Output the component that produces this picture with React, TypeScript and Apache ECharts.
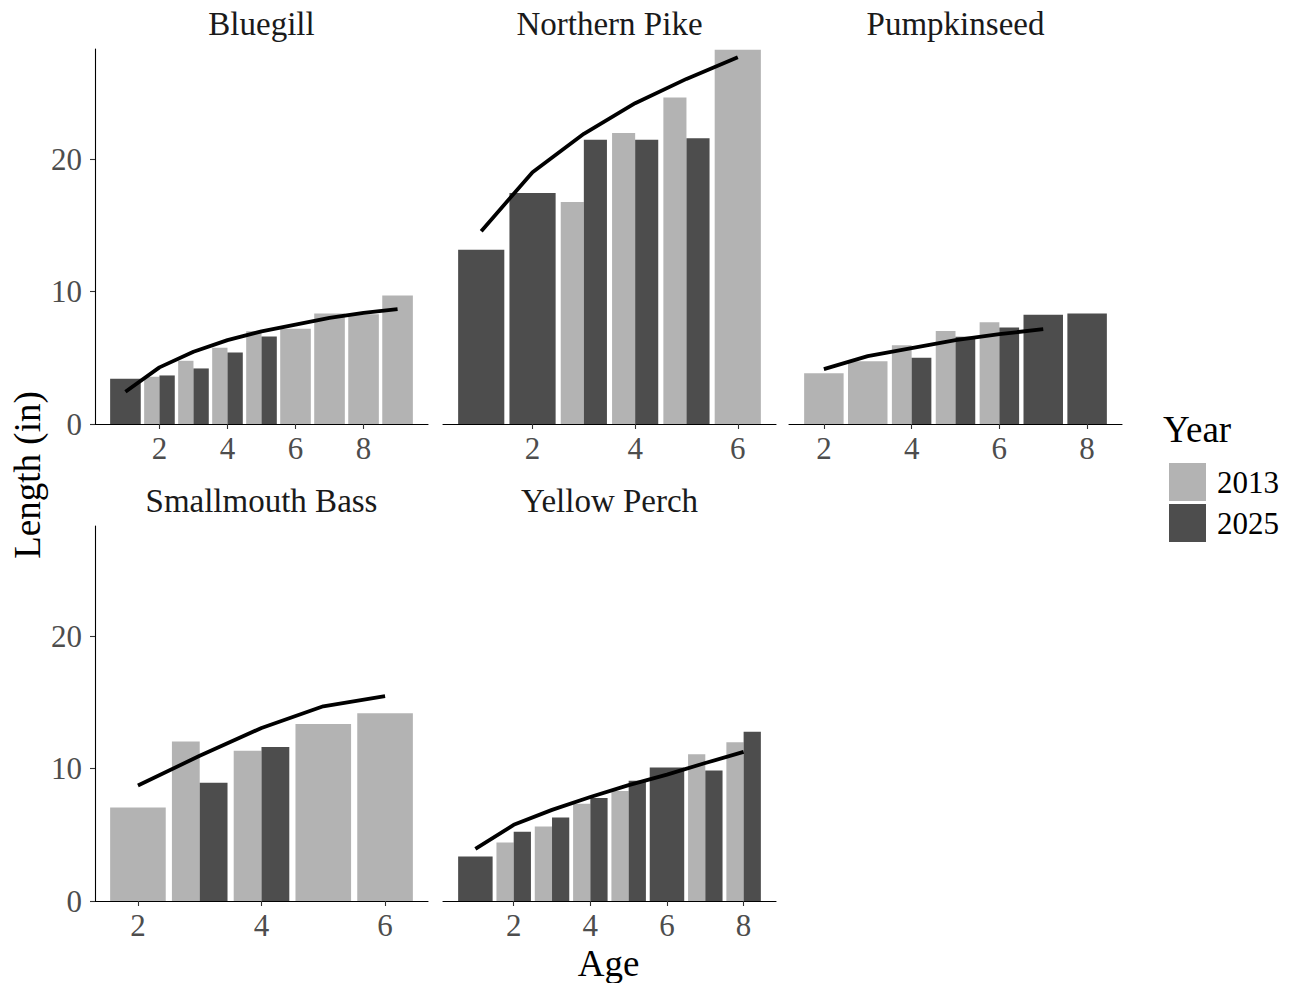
import React, { useEffect, useRef } from "react";
import * as echarts from "echarts";

// ---- Data (Length in inches by Age) ----
const speciesNames = ["Bluegill", "Northern Pike", "Pumpkinseed", "Smallmouth Bass", "Yellow Perch"];
const years = ["2013", "2025"];
const yTicks = [0, 10, 20];

const bluegill2013 = [[2, 3.57], [3, 4.78], [4, 5.76], [5, 7.02], [6, 7.2], [7, 8.35], [8, 8.3], [9, 9.71]];
const bluegill2025 = [[1, 3.42], [2, 3.67], [3, 4.2], [4, 5.41], [5, 6.62]];
const bluegillFit = [[1, 2.44], [2, 4.28], [3, 5.46], [4, 6.34], [5, 7.0], [6, 7.52], [7, 8.02], [8, 8.4], [9, 8.68]];

const pike2013 = [[3, 16.78], [4, 22.0], [5, 24.68], [6, 28.3]];
const pike2025 = [[1, 13.18], [2, 17.46], [3, 21.49], [4, 21.49], [5, 21.6]];
const pikeFit = [[1, 14.57], [2, 19.04], [3, 21.94], [4, 24.25], [5, 26.09], [6, 27.72]];

const pumpkinseed2013 = [[2, 3.83], [3, 4.75], [4, 5.96], [5, 7.04], [6, 7.7]];
const pumpkinseed2025 = [[4, 5.0], [5, 6.59], [6, 7.3], [7, 8.25], [8, 8.35]];
const pumpkinseedFit = [[2, 4.15], [3, 5.13], [4, 5.74], [5, 6.34], [6, 6.79], [7, 7.17]];

const smallmouth2013 = [[2, 7.07], [3, 12.05], [4, 11.36], [5, 13.38], [6, 14.19]];
const smallmouth2025 = [[3, 8.94], [4, 11.64]];
const smallmouthFit = [[2, 8.73], [3, 10.98], [4, 13.08], [5, 14.72], [6, 15.48]];

const perch2013 = [[2, 4.42], [3, 5.63], [4, 7.36], [5, 8.31], [7, 11.09], [8, 12.0]];
const perch2025 = [[1, 3.36], [2, 5.23], [3, 6.31], [4, 7.78], [5, 9.09], [6, 10.1], [7, 9.87], [8, 12.8]];
const perchFit = [[1, 3.94], [2, 5.76], [3, 6.89], [4, 7.86], [5, 8.76], [6, 9.55], [7, 10.43], [8, 11.27]];

const panelData = [
  [bluegill2013, bluegill2025, bluegillFit],
  [pike2013, pike2025, pikeFit],
  [pumpkinseed2013, pumpkinseed2025, pumpkinseedFit],
  [smallmouth2013, smallmouth2025, smallmouthFit],
  [perch2013, perch2025, perchFit],
];

// ---- Layout / style ----
const FONT = "Liberation Serif";
const COLORS = ["#b3b3b3", "#4d4d4d"];
const COL_LEFT = [95, 443, 789];
const ROW_TOP = [49, 526];
const PANEL_W = 333;
const PANEL_H = 375;
const Y_MAX = 28.35;
const BAR_W = 0.9;

function buildOption() {
  const grids: any[] = [];
  const xAxes: any[] = [];
  const yAxes: any[] = [];
  const series: any[] = [];
  const graphics: any[] = [];

  panelData.forEach((pd, i) => {
    const [d13, d25, fit] = pd;
    const col = i % 3;
    const row = Math.floor(i / 3);
    const left = COL_LEFT[col];
    const top = ROW_TOP[row];
    grids.push({ left, top, width: PANEL_W, height: PANEL_H, containLabel: false });

    const ages = [...d13, ...d25].map((d) => d[0]);
    const lo = Math.min(...ages) - BAR_W / 2;
    const hi = Math.max(...ages) + BAR_W / 2;
    const pad = (hi - lo) * 0.05;
    const xmin = lo - pad;
    const xmax = hi + pad;
    const ticks: number[] = [];
    for (let t = Math.ceil(xmin / 2) * 2; t <= xmax; t += 2) ticks.push(t);

    xAxes.push({
      type: "value",
      gridIndex: i,
      min: xmin,
      max: xmax,
      axisLine: { show: true, onZero: false, lineStyle: { color: "#000", width: 1.1 } },
      axisTick: { show: true, length: 5, customValues: ticks, lineStyle: { color: "#333", width: 1.1 } },
      axisLabel: {
        show: true,
        customValues: ticks,
        margin: 9,
        color: "#4d4d4d",
        fontFamily: FONT,
        fontSize: 31,
      },
      splitLine: { show: false },
    });

    const showY = col === 0;
    yAxes.push({
      type: "value",
      gridIndex: i,
      min: 0,
      max: Y_MAX,
      show: showY,
      axisLine: { show: true, lineStyle: { color: "#000", width: 1.1 } },
      axisTick: { show: true, length: 5, customValues: yTicks, lineStyle: { color: "#333", width: 1.1 } },
      axisLabel: {
        show: true,
        customValues: yTicks,
        margin: 13,
        color: "#4d4d4d",
        fontFamily: FONT,
        fontSize: 31,
      },
      splitLine: { show: false },
    });

    const set13 = new Set(d13.map((d) => d[0]));
    const set25 = new Set(d25.map((d) => d[0]));
    [d13, d25].forEach((arr, yi) => {
      const other = yi === 0 ? set25 : set13;
      const data = arr.map(([age, val]) => {
        const both = other.has(age);
        const w = both ? BAR_W / 2 : BAR_W;
        const off = both ? (yi === 0 ? -BAR_W / 4 : BAR_W / 4) : 0;
        return [age, val, off, w];
      });
      const color = COLORS[yi];
      series.push({
        type: "custom",
        name: years[yi],
        xAxisIndex: i,
        yAxisIndex: i,
        itemStyle: { color },
        encode: { x: 0, y: 1 },
        data,
        z: 2,
        renderItem: (params: any, api: any) => {
          const age = api.value(0);
          const val = api.value(1);
          const off = api.value(2);
          const w = api.value(3);
          const p0 = api.coord([age + off - w / 2, val]);
          const p1 = api.coord([age + off + w / 2, 0]);
          return {
            type: "rect",
            shape: { x: p0[0], y: p0[1], width: p1[0] - p0[0], height: p1[1] - p0[1] },
            style: { fill: color },
          };
        },
      });
    });

    series.push({
      type: "line",
      name: "fit" + i,
      xAxisIndex: i,
      yAxisIndex: i,
      data: fit,
      symbol: "none",
      z: 5,
      lineStyle: { color: "#000", width: 3.8, join: "round" },
    });

    graphics.push({
      type: "text",
      x: left + PANEL_W / 2,
      y: top - 25,
      style: {
        text: speciesNames[i],
        textAlign: "center",
        textVerticalAlign: "middle",
        font: `33px "${FONT}"`,
        fill: "#1a1a1a",
      },
    });
  });

  graphics.push({
    type: "text",
    x: (COL_LEFT[0] + COL_LEFT[2] + PANEL_W) / 2,
    y: 963,
    style: { text: "Age", textAlign: "center", textVerticalAlign: "middle", font: `37px "${FONT}"`, fill: "#000" },
  });
  graphics.push({
    type: "text",
    x: 27,
    y: (ROW_TOP[0] + ROW_TOP[1] + PANEL_H) / 2,
    rotation: Math.PI / 2,
    style: { text: "Length (in)", textAlign: "center", textVerticalAlign: "middle", font: `37px "${FONT}"`, fill: "#000" },
  });
  graphics.push({
    type: "text",
    x: 1163,
    y: 429,
    style: { text: "Year", textAlign: "left", textVerticalAlign: "middle", font: `37px "${FONT}"`, fill: "#000" },
  });

  return {
    animation: false,
    backgroundColor: "#fff",
    grid: grids,
    xAxis: xAxes,
    yAxis: yAxes,
    series,
    graphic: graphics,
    legend: {
      data: years,
      orient: "vertical",
      left: 1164,
      top: 458,
      icon: "rect",
      itemWidth: 37,
      itemHeight: 38,
      itemGap: 3,
      selectedMode: false,
      textStyle: { fontFamily: FONT, fontSize: 31, color: "#000", padding: [0, 0, 0, 6] },
    },
  };
}

export default function App() {
  const ref = useRef<HTMLDivElement>(null);
  useEffect(() => {
    document.body.style.margin = "0";
    if (!ref.current) return;
    const chart = echarts.init(ref.current, undefined, { renderer: "svg" });
    chart.setOption(buildOption() as any);
    return () => chart.dispose();
  }, []);
  return <div ref={ref} style={{ width: 1291, height: 983 }} />;
}
